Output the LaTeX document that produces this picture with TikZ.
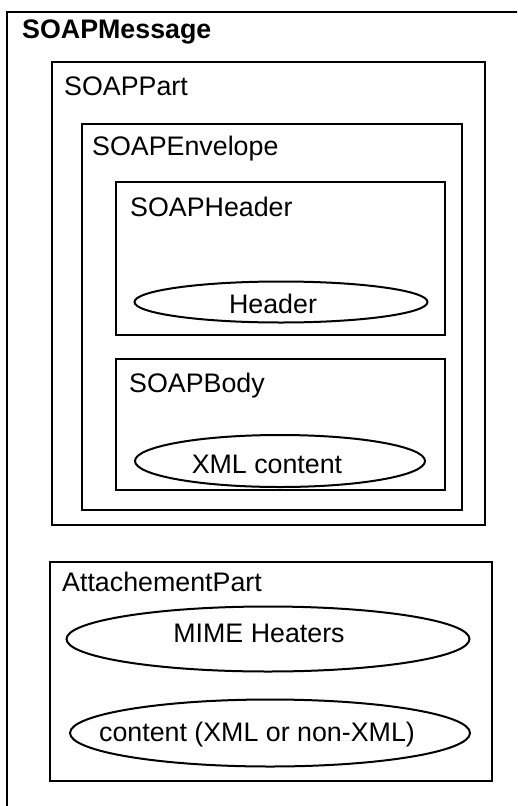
\documentclass[tikz,border=0pt]{standalone}
\usepackage{fontspec}
\setmainfont{Liberation Sans}
\usetikzlibrary{shapes.geometric}

\begin{document}
\begin{tikzpicture}[x=1pt,y=-1pt,
		part/.style={draw,line width=2.2pt,inner sep=0pt,outer sep=0pt,anchor=north west},
		item/.style={draw,ellipse,line width=2pt,inner sep=0pt,outer sep=0pt},
		title/.style={anchor=base west,inner sep=0pt,font=\fontsize{26.8}{30}\selectfont},
		entry/.style={anchor=base,inner sep=0pt,font=\fontsize{26.8}{30}\selectfont}]
		\useasboundingbox (0,0) rectangle (517,806);
		\clip (0,0) rectangle (517,806);
		%
		% boxes
		\node[part,minimum width=540pt,minimum height=820pt] (msg) at (7,12) {};
		\node[part,minimum width=433pt,minimum height=463pt] (part) at (52,62) {};
		\node[part,minimum width=380pt,minimum height=386pt] (env) at (82,124) {};
		\node[part,minimum width=329pt,minimum height=153pt] (hdr) at (116,182) {};
		\node[part,minimum width=329pt,minimum height=131pt] (body) at (116,359) {};
		\node[part,minimum width=442pt,minimum height=219pt] (att) at (50,562) {};
		% box titles
		\node[title,font=\fontsize{26.8}{30}\selectfont\bfseries] (msgT) at (22,38) {SOAPMessage};
		\node[title] (partT) at (64,95) {SOAPPart};
		\node[title] (envT) at (92,155) {SOAPEnvelope};
		\node[title] (hdrT) at (130,216) {SOAPHeader};
		\node[title] (bodyT) at (129,392) {SOAPBody};
		\node[title] (attT) at (62,591) {AttachementPart};
		% ellipses
		\node[item,minimum width=293pt,minimum height=41pt] (header) at (281,302) {};
		\node[item,minimum width=290pt,minimum height=52pt] (xml) at (280,461) {};
		\node[item,minimum width=403pt,minimum height=65pt] (mime) at (268,639) {};
		\node[item,minimum width=400pt,minimum height=67pt] (content) at (270,733) {};
		% ellipse texts
		\node[entry] (headerT) at (273,313) {Header};
		\node[entry] (xmlT) at (267,473) {XML content};
		\node[entry] (mimeT) at (259,642) {MIME Heaters};
		\node[entry] (contentT) at (257,741) {content (XML or non-XML)};
\end{tikzpicture}
\end{document}
